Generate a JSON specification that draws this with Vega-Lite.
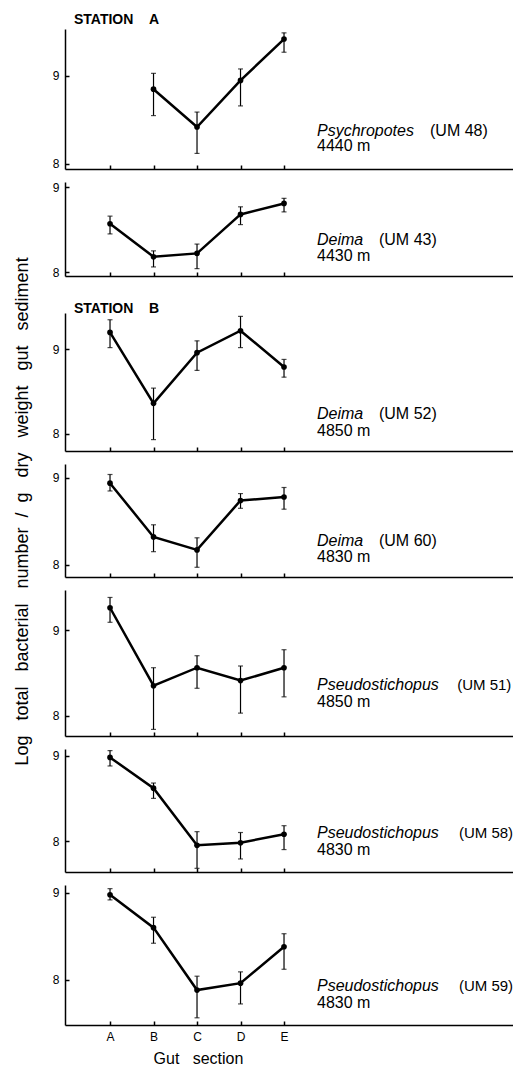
{
  "$schema": "https://vega.github.io/schema/vega-lite/v6.json",
  "background": "white",
  "padding": {"left": 12, "top": 13, "right": 0, "bottom": 0},
  "datasets": {
    "pts": [
      {"p": 1, "s": "B", "x": 2, "m": 8.85, "lo": 8.55, "hi": 9.03},
      {"p": 1, "s": "C", "x": 3, "m": 8.42, "lo": 8.12, "hi": 8.59},
      {"p": 1, "s": "D", "x": 4, "m": 8.95, "lo": 8.66, "hi": 9.08},
      {"p": 1, "s": "E", "x": 5, "m": 9.42, "lo": 9.27, "hi": 9.49},
      {"p": 2, "s": "A", "x": 1, "m": 8.57, "lo": 8.45, "hi": 8.66},
      {"p": 2, "s": "B", "x": 2, "m": 8.18, "lo": 8.06, "hi": 8.25},
      {"p": 2, "s": "C", "x": 3, "m": 8.22, "lo": 8.04, "hi": 8.33},
      {"p": 2, "s": "D", "x": 4, "m": 8.68, "lo": 8.56, "hi": 8.77},
      {"p": 2, "s": "E", "x": 5, "m": 8.81, "lo": 8.71, "hi": 8.87},
      {"p": 3, "s": "A", "x": 1, "m": 9.20, "lo": 9.02, "hi": 9.35},
      {"p": 3, "s": "B", "x": 2, "m": 8.36, "lo": 7.93, "hi": 8.54},
      {"p": 3, "s": "C", "x": 3, "m": 8.96, "lo": 8.75, "hi": 9.10},
      {"p": 3, "s": "D", "x": 4, "m": 9.22, "lo": 9.02, "hi": 9.39},
      {"p": 3, "s": "E", "x": 5, "m": 8.79, "lo": 8.67, "hi": 8.88},
      {"p": 4, "s": "A", "x": 1, "m": 8.94, "lo": 8.85, "hi": 9.04},
      {"p": 4, "s": "B", "x": 2, "m": 8.32, "lo": 8.15, "hi": 8.46},
      {"p": 4, "s": "C", "x": 3, "m": 8.17, "lo": 7.97, "hi": 8.31},
      {"p": 4, "s": "D", "x": 4, "m": 8.74, "lo": 8.65, "hi": 8.82},
      {"p": 4, "s": "E", "x": 5, "m": 8.78, "lo": 8.64, "hi": 8.89},
      {"p": 5, "s": "A", "x": 1, "m": 9.26, "lo": 9.09, "hi": 9.38},
      {"p": 5, "s": "B", "x": 2, "m": 8.35, "lo": 7.84, "hi": 8.56},
      {"p": 5, "s": "C", "x": 3, "m": 8.56, "lo": 8.32, "hi": 8.70},
      {"p": 5, "s": "D", "x": 4, "m": 8.41, "lo": 8.03, "hi": 8.58},
      {"p": 5, "s": "E", "x": 5, "m": 8.56, "lo": 8.22, "hi": 8.77},
      {"p": 6, "s": "A", "x": 1, "m": 8.98, "lo": 8.88, "hi": 9.06},
      {"p": 6, "s": "B", "x": 2, "m": 8.62, "lo": 8.50, "hi": 8.68},
      {"p": 6, "s": "C", "x": 3, "m": 7.95, "lo": 7.68, "hi": 8.11},
      {"p": 6, "s": "D", "x": 4, "m": 7.98, "lo": 7.79, "hi": 8.10},
      {"p": 6, "s": "E", "x": 5, "m": 8.08, "lo": 7.90, "hi": 8.18},
      {"p": 7, "s": "A", "x": 1, "m": 8.98, "lo": 8.92, "hi": 9.05},
      {"p": 7, "s": "B", "x": 2, "m": 8.60, "lo": 8.42, "hi": 8.72},
      {"p": 7, "s": "C", "x": 3, "m": 7.88, "lo": 7.56, "hi": 8.04},
      {"p": 7, "s": "D", "x": 4, "m": 7.96, "lo": 7.72, "hi": 8.09},
      {"p": 7, "s": "E", "x": 5, "m": 8.38, "lo": 8.12, "hi": 8.53}
    ],
    "lab": [
      {"p": 1, "sp": "Psychropotes", "um": "(UM 48)", "d": "4440 m"},
      {"p": 2, "sp": "Deima", "um": "(UM 43)", "d": "4430 m"},
      {"p": 3, "sp": "Deima", "um": "(UM 52)", "d": "4850 m"},
      {"p": 4, "sp": "Deima", "um": "(UM 60)", "d": "4830 m"},
      {"p": 5, "sp": "Pseudostichopus", "um": "(UM 51)", "d": "4850 m"},
      {"p": 6, "sp": "Pseudostichopus", "um": "(UM 58)", "d": "4830 m"},
      {"p": 7, "sp": "Pseudostichopus", "um": "(UM 59)", "d": "4830 m"}
    ]
  },
  "config": {
    "view": {"stroke": null},
    "font": "Liberation Sans",
    "axis": {
      "domainColor": "black", "domainWidth": 1.5,
      "tickColor": "black", "tickWidth": 1.5, "tickSize": -4,
      "labelColor": "black", "labelFont": "Liberation Sans", "labelFontSize": 12, "labelPadding": 10,
      "grid": false, "titleColor": "black", "titleFont": "Liberation Sans", "titleFontWeight": "normal"
    },
    "title": {"font": "Liberation Sans", "fontSize": 14, "fontWeight": "bold", "color": "black", "anchor": "start", "frame": "group", "dx": 9, "dy": -4, "offset": -2},
    "text": {"fontSize": 16, "align": "left", "baseline": "middle", "color": "black", "font": "Liberation Sans"},
    "tick": {"orient": "horizontal", "color": "black", "size": 5, "thickness": 1.2},
    "rule": {"color": "black", "strokeWidth": 1.2},
    "line": {"color": "black", "strokeWidth": 2.5},
    "point": {"filled": true, "color": "black", "opacity": 1, "size": 32}
  },
  "spacing": 13,
  "bounds": "flush",
  "vconcat": [
    {
      "width": 450, "height": 140,
      "title": {"text": "STATION\u00a0\u00a0\u00a0\u00a0A"},
      "layer": [
        {"data": {"name": "pts"}, "transform": [{"filter": "datum.p == 1"}], "mark": "rule",
         "encoding": {"x": {"field": "x", "type": "quantitative", "scale": {"domain": [-0.035, 10.31]}, "axis": {"values": [1, 2, 3, 4, 5], "labels": false, "title": null}},
                      "y": {"field": "lo", "type": "quantitative", "scale": {"domain": [7.943, 9.534]}, "axis": {"values": [8, 9], "format": "d", "title": null}}, "y2": {"field": "hi"}}},
        {"data": {"name": "pts"}, "transform": [{"filter": "datum.p == 1"}], "mark": "tick",
         "encoding": {"x": {"field": "x", "type": "quantitative", "scale": {"domain": [-0.035, 10.31]}, "axis": {"values": [1, 2, 3, 4, 5], "labels": false, "title": null}},
                      "y": {"field": "lo", "type": "quantitative", "scale": {"domain": [7.943, 9.534]}, "axis": {"values": [8, 9], "format": "d", "title": null}}}},
        {"data": {"name": "pts"}, "transform": [{"filter": "datum.p == 1"}], "mark": "tick",
         "encoding": {"x": {"field": "x", "type": "quantitative", "scale": {"domain": [-0.035, 10.31]}, "axis": {"values": [1, 2, 3, 4, 5], "labels": false, "title": null}},
                      "y": {"field": "hi", "type": "quantitative", "scale": {"domain": [7.943, 9.534]}, "axis": {"values": [8, 9], "format": "d", "title": null}}}},
        {"data": {"name": "pts"}, "transform": [{"filter": "datum.p == 1"}], "mark": "line",
         "encoding": {"x": {"field": "x", "type": "quantitative", "scale": {"domain": [-0.035, 10.31]}, "axis": {"values": [1, 2, 3, 4, 5], "labels": false, "title": null}},
                      "y": {"field": "m", "type": "quantitative", "scale": {"domain": [7.943, 9.534]}, "axis": {"values": [8, 9], "format": "d", "title": null}}}},
        {"data": {"name": "pts"}, "transform": [{"filter": "datum.p == 1"}], "mark": "point",
         "encoding": {"x": {"field": "x", "type": "quantitative", "scale": {"domain": [-0.035, 10.31]}, "axis": {"values": [1, 2, 3, 4, 5], "labels": false, "title": null}},
                      "y": {"field": "m", "type": "quantitative", "scale": {"domain": [7.943, 9.534]}, "axis": {"values": [8, 9], "format": "d", "title": null}}}},
        {"data": {"name": "lab"}, "transform": [{"filter": "datum.p == 1"}], "mark": {"type": "text", "fontStyle": "italic"},
         "encoding": {"x": {"datum": 5.758, "type": "quantitative", "scale": {"domain": [-0.035, 10.31]}, "axis": {"values": [1, 2, 3, 4, 5], "labels": false, "title": null}},
                      "y": {"datum": 8.38, "type": "quantitative", "scale": {"domain": [7.943, 9.534]}, "axis": {"values": [8, 9], "format": "d", "title": null}}, "text": {"field": "sp"}}},
        {"data": {"name": "lab"}, "transform": [{"filter": "datum.p == 1"}], "mark": "text",
         "encoding": {"x": {"datum": 8.356, "type": "quantitative", "scale": {"domain": [-0.035, 10.31]}, "axis": {"values": [1, 2, 3, 4, 5], "labels": false, "title": null}},
                      "y": {"datum": 8.38, "type": "quantitative", "scale": {"domain": [7.943, 9.534]}, "axis": {"values": [8, 9], "format": "d", "title": null}}, "text": {"field": "um"}}},
        {"data": {"name": "lab"}, "transform": [{"filter": "datum.p == 1"}], "mark": "text",
         "encoding": {"x": {"datum": 5.758, "type": "quantitative", "scale": {"domain": [-0.035, 10.31]}, "axis": {"values": [1, 2, 3, 4, 5], "labels": false, "title": null}},
                      "y": {"datum": 8.20, "type": "quantitative", "scale": {"domain": [7.943, 9.534]}, "axis": {"values": [8, 9], "format": "d", "title": null}}, "text": {"field": "d"}}}
      ]
    },
    {
      "width": 450, "height": 94,
      "layer": [
        {"data": {"name": "pts"}, "transform": [{"filter": "datum.p == 2"}], "mark": "rule",
         "encoding": {"x": {"field": "x", "type": "quantitative", "scale": {"domain": [-0.035, 10.31]}, "axis": {"values": [1, 2, 3, 4, 5], "labels": false, "title": null}},
                      "y": {"field": "lo", "type": "quantitative", "scale": {"domain": [7.953, 9.063]}, "axis": {"values": [8, 9], "format": "d", "title": null}}, "y2": {"field": "hi"}}},
        {"data": {"name": "pts"}, "transform": [{"filter": "datum.p == 2"}], "mark": "tick",
         "encoding": {"x": {"field": "x", "type": "quantitative", "scale": {"domain": [-0.035, 10.31]}, "axis": {"values": [1, 2, 3, 4, 5], "labels": false, "title": null}},
                      "y": {"field": "lo", "type": "quantitative", "scale": {"domain": [7.953, 9.063]}, "axis": {"values": [8, 9], "format": "d", "title": null}}}},
        {"data": {"name": "pts"}, "transform": [{"filter": "datum.p == 2"}], "mark": "tick",
         "encoding": {"x": {"field": "x", "type": "quantitative", "scale": {"domain": [-0.035, 10.31]}, "axis": {"values": [1, 2, 3, 4, 5], "labels": false, "title": null}},
                      "y": {"field": "hi", "type": "quantitative", "scale": {"domain": [7.953, 9.063]}, "axis": {"values": [8, 9], "format": "d", "title": null}}}},
        {"data": {"name": "pts"}, "transform": [{"filter": "datum.p == 2"}], "mark": "line",
         "encoding": {"x": {"field": "x", "type": "quantitative", "scale": {"domain": [-0.035, 10.31]}, "axis": {"values": [1, 2, 3, 4, 5], "labels": false, "title": null}},
                      "y": {"field": "m", "type": "quantitative", "scale": {"domain": [7.953, 9.063]}, "axis": {"values": [8, 9], "format": "d", "title": null}}}},
        {"data": {"name": "pts"}, "transform": [{"filter": "datum.p == 2"}], "mark": "point",
         "encoding": {"x": {"field": "x", "type": "quantitative", "scale": {"domain": [-0.035, 10.31]}, "axis": {"values": [1, 2, 3, 4, 5], "labels": false, "title": null}},
                      "y": {"field": "m", "type": "quantitative", "scale": {"domain": [7.953, 9.063]}, "axis": {"values": [8, 9], "format": "d", "title": null}}}},
        {"data": {"name": "lab"}, "transform": [{"filter": "datum.p == 2"}], "mark": {"type": "text", "fontStyle": "italic"},
         "encoding": {"x": {"datum": 5.758, "type": "quantitative", "scale": {"domain": [-0.035, 10.31]}, "axis": {"values": [1, 2, 3, 4, 5], "labels": false, "title": null}},
                      "y": {"datum": 8.38, "type": "quantitative", "scale": {"domain": [7.953, 9.063]}, "axis": {"values": [8, 9], "format": "d", "title": null}}, "text": {"field": "sp"}}},
        {"data": {"name": "lab"}, "transform": [{"filter": "datum.p == 2"}], "mark": "text",
         "encoding": {"x": {"datum": 7.183, "type": "quantitative", "scale": {"domain": [-0.035, 10.31]}, "axis": {"values": [1, 2, 3, 4, 5], "labels": false, "title": null}},
                      "y": {"datum": 8.38, "type": "quantitative", "scale": {"domain": [7.953, 9.063]}, "axis": {"values": [8, 9], "format": "d", "title": null}}, "text": {"field": "um"}}},
        {"data": {"name": "lab"}, "transform": [{"filter": "datum.p == 2"}], "mark": "text",
         "encoding": {"x": {"datum": 5.758, "type": "quantitative", "scale": {"domain": [-0.035, 10.31]}, "axis": {"values": [1, 2, 3, 4, 5], "labels": false, "title": null}},
                      "y": {"datum": 8.19, "type": "quantitative", "scale": {"domain": [7.953, 9.063]}, "axis": {"values": [8, 9], "format": "d", "title": null}}, "text": {"field": "d"}}}
      ]
    },
    {
      "width": 450, "height": 11,
      "data": {"name": "pts"}, "transform": [{"filter": "false"}],
      "mark": {"type": "point", "opacity": 0},
      "encoding": {"x": {"field": "x", "type": "quantitative", "axis": null}, "y": {"field": "m", "type": "quantitative", "axis": null}}
    },
    {
      "width": 450, "height": 138,
      "title": {"text": "STATION\u00a0\u00a0\u00a0\u00a0B", "dy": 1},
      "layer": [
        {"data": {"name": "pts"}, "transform": [{"filter": "datum.p == 3"}], "mark": "rule",
         "encoding": {"x": {"field": "x", "type": "quantitative", "scale": {"domain": [-0.035, 10.31]}, "axis": {"values": [1, 2, 3, 4, 5], "labels": false, "title": null}},
                      "y": {"field": "lo", "type": "quantitative", "scale": {"domain": [7.795, 9.43]}, "axis": {"values": [8, 9], "format": "d", "title": null}}, "y2": {"field": "hi"}}},
        {"data": {"name": "pts"}, "transform": [{"filter": "datum.p == 3"}], "mark": "tick",
         "encoding": {"x": {"field": "x", "type": "quantitative", "scale": {"domain": [-0.035, 10.31]}, "axis": {"values": [1, 2, 3, 4, 5], "labels": false, "title": null}},
                      "y": {"field": "lo", "type": "quantitative", "scale": {"domain": [7.795, 9.43]}, "axis": {"values": [8, 9], "format": "d", "title": null}}}},
        {"data": {"name": "pts"}, "transform": [{"filter": "datum.p == 3"}], "mark": "tick",
         "encoding": {"x": {"field": "x", "type": "quantitative", "scale": {"domain": [-0.035, 10.31]}, "axis": {"values": [1, 2, 3, 4, 5], "labels": false, "title": null}},
                      "y": {"field": "hi", "type": "quantitative", "scale": {"domain": [7.795, 9.43]}, "axis": {"values": [8, 9], "format": "d", "title": null}}}},
        {"data": {"name": "pts"}, "transform": [{"filter": "datum.p == 3"}], "mark": "line",
         "encoding": {"x": {"field": "x", "type": "quantitative", "scale": {"domain": [-0.035, 10.31]}, "axis": {"values": [1, 2, 3, 4, 5], "labels": false, "title": null}},
                      "y": {"field": "m", "type": "quantitative", "scale": {"domain": [7.795, 9.43]}, "axis": {"values": [8, 9], "format": "d", "title": null}}}},
        {"data": {"name": "pts"}, "transform": [{"filter": "datum.p == 3"}], "mark": "point",
         "encoding": {"x": {"field": "x", "type": "quantitative", "scale": {"domain": [-0.035, 10.31]}, "axis": {"values": [1, 2, 3, 4, 5], "labels": false, "title": null}},
                      "y": {"field": "m", "type": "quantitative", "scale": {"domain": [7.795, 9.43]}, "axis": {"values": [8, 9], "format": "d", "title": null}}}},
        {"data": {"name": "lab"}, "transform": [{"filter": "datum.p == 3"}], "mark": {"type": "text", "fontStyle": "italic"},
         "encoding": {"x": {"datum": 5.758, "type": "quantitative", "scale": {"domain": [-0.035, 10.31]}, "axis": {"values": [1, 2, 3, 4, 5], "labels": false, "title": null}},
                      "y": {"datum": 8.235, "type": "quantitative", "scale": {"domain": [7.795, 9.43]}, "axis": {"values": [8, 9], "format": "d", "title": null}}, "text": {"field": "sp"}}},
        {"data": {"name": "lab"}, "transform": [{"filter": "datum.p == 3"}], "mark": "text",
         "encoding": {"x": {"datum": 7.183, "type": "quantitative", "scale": {"domain": [-0.035, 10.31]}, "axis": {"values": [1, 2, 3, 4, 5], "labels": false, "title": null}},
                      "y": {"datum": 8.235, "type": "quantitative", "scale": {"domain": [7.795, 9.43]}, "axis": {"values": [8, 9], "format": "d", "title": null}}, "text": {"field": "um"}}},
        {"data": {"name": "lab"}, "transform": [{"filter": "datum.p == 3"}], "mark": "text",
         "encoding": {"x": {"datum": 5.758, "type": "quantitative", "scale": {"domain": [-0.035, 10.31]}, "axis": {"values": [1, 2, 3, 4, 5], "labels": false, "title": null}},
                      "y": {"datum": 8.03, "type": "quantitative", "scale": {"domain": [7.795, 9.43]}, "axis": {"values": [8, 9], "format": "d", "title": null}}, "text": {"field": "d"}}}
      ]
    },
    {
      "width": 450, "height": 113,
      "layer": [
        {"data": {"name": "pts"}, "transform": [{"filter": "datum.p == 4"}], "mark": "rule",
         "encoding": {"x": {"field": "x", "type": "quantitative", "scale": {"domain": [-0.035, 10.31]}, "axis": {"values": [1, 2, 3, 4, 5], "labels": false, "title": null}},
                      "y": {"field": "lo", "type": "quantitative", "scale": {"domain": [7.858, 9.161]}, "axis": {"values": [8, 9], "format": "d", "title": "Log\u00a0\u00a0\u00a0total\u00a0\u00a0\u00a0bacterial\u00a0\u00a0\u00a0number\u00a0\u00a0/\u00a0\u00a0g\u00a0\u00a0\u00a0dry\u00a0\u00a0\u00a0weight\u00a0\u00a0\u00a0gut\u00a0\u00a0\u00a0sediment", "titleFontSize": 18, "titleX": -43, "titleY": 47, "titleAngle": -90, "titleAlign": "center", "titleBaseline": "middle"}}, "y2": {"field": "hi"}}},
        {"data": {"name": "pts"}, "transform": [{"filter": "datum.p == 4"}], "mark": "tick",
         "encoding": {"x": {"field": "x", "type": "quantitative", "scale": {"domain": [-0.035, 10.31]}, "axis": {"values": [1, 2, 3, 4, 5], "labels": false, "title": null}},
                      "y": {"field": "lo", "type": "quantitative", "scale": {"domain": [7.858, 9.161]}, "axis": {"values": [8, 9], "format": "d", "title": "Log\u00a0\u00a0\u00a0total\u00a0\u00a0\u00a0bacterial\u00a0\u00a0\u00a0number\u00a0\u00a0/\u00a0\u00a0g\u00a0\u00a0\u00a0dry\u00a0\u00a0\u00a0weight\u00a0\u00a0\u00a0gut\u00a0\u00a0\u00a0sediment", "titleFontSize": 18, "titleX": -43, "titleY": 47, "titleAngle": -90, "titleAlign": "center", "titleBaseline": "middle"}}}},
        {"data": {"name": "pts"}, "transform": [{"filter": "datum.p == 4"}], "mark": "tick",
         "encoding": {"x": {"field": "x", "type": "quantitative", "scale": {"domain": [-0.035, 10.31]}, "axis": {"values": [1, 2, 3, 4, 5], "labels": false, "title": null}},
                      "y": {"field": "hi", "type": "quantitative", "scale": {"domain": [7.858, 9.161]}, "axis": {"values": [8, 9], "format": "d", "title": "Log\u00a0\u00a0\u00a0total\u00a0\u00a0\u00a0bacterial\u00a0\u00a0\u00a0number\u00a0\u00a0/\u00a0\u00a0g\u00a0\u00a0\u00a0dry\u00a0\u00a0\u00a0weight\u00a0\u00a0\u00a0gut\u00a0\u00a0\u00a0sediment", "titleFontSize": 18, "titleX": -43, "titleY": 47, "titleAngle": -90, "titleAlign": "center", "titleBaseline": "middle"}}}},
        {"data": {"name": "pts"}, "transform": [{"filter": "datum.p == 4"}], "mark": "line",
         "encoding": {"x": {"field": "x", "type": "quantitative", "scale": {"domain": [-0.035, 10.31]}, "axis": {"values": [1, 2, 3, 4, 5], "labels": false, "title": null}},
                      "y": {"field": "m", "type": "quantitative", "scale": {"domain": [7.858, 9.161]}, "axis": {"values": [8, 9], "format": "d", "title": "Log\u00a0\u00a0\u00a0total\u00a0\u00a0\u00a0bacterial\u00a0\u00a0\u00a0number\u00a0\u00a0/\u00a0\u00a0g\u00a0\u00a0\u00a0dry\u00a0\u00a0\u00a0weight\u00a0\u00a0\u00a0gut\u00a0\u00a0\u00a0sediment", "titleFontSize": 18, "titleX": -43, "titleY": 47, "titleAngle": -90, "titleAlign": "center", "titleBaseline": "middle"}}}},
        {"data": {"name": "pts"}, "transform": [{"filter": "datum.p == 4"}], "mark": "point",
         "encoding": {"x": {"field": "x", "type": "quantitative", "scale": {"domain": [-0.035, 10.31]}, "axis": {"values": [1, 2, 3, 4, 5], "labels": false, "title": null}},
                      "y": {"field": "m", "type": "quantitative", "scale": {"domain": [7.858, 9.161]}, "axis": {"values": [8, 9], "format": "d", "title": "Log\u00a0\u00a0\u00a0total\u00a0\u00a0\u00a0bacterial\u00a0\u00a0\u00a0number\u00a0\u00a0/\u00a0\u00a0g\u00a0\u00a0\u00a0dry\u00a0\u00a0\u00a0weight\u00a0\u00a0\u00a0gut\u00a0\u00a0\u00a0sediment", "titleFontSize": 18, "titleX": -43, "titleY": 47, "titleAngle": -90, "titleAlign": "center", "titleBaseline": "middle"}}}},
        {"data": {"name": "lab"}, "transform": [{"filter": "datum.p == 4"}], "mark": {"type": "text", "fontStyle": "italic"},
         "encoding": {"x": {"datum": 5.758, "type": "quantitative", "scale": {"domain": [-0.035, 10.31]}, "axis": {"values": [1, 2, 3, 4, 5], "labels": false, "title": null}},
                      "y": {"datum": 8.27, "type": "quantitative", "scale": {"domain": [7.858, 9.161]}, "axis": {"values": [8, 9], "format": "d", "title": "Log\u00a0\u00a0\u00a0total\u00a0\u00a0\u00a0bacterial\u00a0\u00a0\u00a0number\u00a0\u00a0/\u00a0\u00a0g\u00a0\u00a0\u00a0dry\u00a0\u00a0\u00a0weight\u00a0\u00a0\u00a0gut\u00a0\u00a0\u00a0sediment", "titleFontSize": 18, "titleX": -43, "titleY": 47, "titleAngle": -90, "titleAlign": "center", "titleBaseline": "middle"}}, "text": {"field": "sp"}}},
        {"data": {"name": "lab"}, "transform": [{"filter": "datum.p == 4"}], "mark": "text",
         "encoding": {"x": {"datum": 7.183, "type": "quantitative", "scale": {"domain": [-0.035, 10.31]}, "axis": {"values": [1, 2, 3, 4, 5], "labels": false, "title": null}},
                      "y": {"datum": 8.27, "type": "quantitative", "scale": {"domain": [7.858, 9.161]}, "axis": {"values": [8, 9], "format": "d", "title": "Log\u00a0\u00a0\u00a0total\u00a0\u00a0\u00a0bacterial\u00a0\u00a0\u00a0number\u00a0\u00a0/\u00a0\u00a0g\u00a0\u00a0\u00a0dry\u00a0\u00a0\u00a0weight\u00a0\u00a0\u00a0gut\u00a0\u00a0\u00a0sediment", "titleFontSize": 18, "titleX": -43, "titleY": 47, "titleAngle": -90, "titleAlign": "center", "titleBaseline": "middle"}}, "text": {"field": "um"}}},
        {"data": {"name": "lab"}, "transform": [{"filter": "datum.p == 4"}], "mark": "text",
         "encoding": {"x": {"datum": 5.758, "type": "quantitative", "scale": {"domain": [-0.035, 10.31]}, "axis": {"values": [1, 2, 3, 4, 5], "labels": false, "title": null}},
                      "y": {"datum": 8.085, "type": "quantitative", "scale": {"domain": [7.858, 9.161]}, "axis": {"values": [8, 9], "format": "d", "title": "Log\u00a0\u00a0\u00a0total\u00a0\u00a0\u00a0bacterial\u00a0\u00a0\u00a0number\u00a0\u00a0/\u00a0\u00a0g\u00a0\u00a0\u00a0dry\u00a0\u00a0\u00a0weight\u00a0\u00a0\u00a0gut\u00a0\u00a0\u00a0sediment", "titleFontSize": 18, "titleX": -43, "titleY": 47, "titleAngle": -90, "titleAlign": "center", "titleBaseline": "middle"}}, "text": {"field": "d"}}}
      ]
    },
    {
      "width": 450, "height": 146,
      "layer": [
        {"data": {"name": "pts"}, "transform": [{"filter": "datum.p == 5"}], "mark": "rule",
         "encoding": {"x": {"field": "x", "type": "quantitative", "scale": {"domain": [-0.035, 10.31]}, "axis": {"values": [1, 2, 3, 4, 5], "labels": false, "title": null}},
                      "y": {"field": "lo", "type": "quantitative", "scale": {"domain": [7.763, 9.467]}, "axis": {"values": [8, 9], "format": "d", "title": null}}, "y2": {"field": "hi"}}},
        {"data": {"name": "pts"}, "transform": [{"filter": "datum.p == 5"}], "mark": "tick",
         "encoding": {"x": {"field": "x", "type": "quantitative", "scale": {"domain": [-0.035, 10.31]}, "axis": {"values": [1, 2, 3, 4, 5], "labels": false, "title": null}},
                      "y": {"field": "lo", "type": "quantitative", "scale": {"domain": [7.763, 9.467]}, "axis": {"values": [8, 9], "format": "d", "title": null}}}},
        {"data": {"name": "pts"}, "transform": [{"filter": "datum.p == 5"}], "mark": "tick",
         "encoding": {"x": {"field": "x", "type": "quantitative", "scale": {"domain": [-0.035, 10.31]}, "axis": {"values": [1, 2, 3, 4, 5], "labels": false, "title": null}},
                      "y": {"field": "hi", "type": "quantitative", "scale": {"domain": [7.763, 9.467]}, "axis": {"values": [8, 9], "format": "d", "title": null}}}},
        {"data": {"name": "pts"}, "transform": [{"filter": "datum.p == 5"}], "mark": "line",
         "encoding": {"x": {"field": "x", "type": "quantitative", "scale": {"domain": [-0.035, 10.31]}, "axis": {"values": [1, 2, 3, 4, 5], "labels": false, "title": null}},
                      "y": {"field": "m", "type": "quantitative", "scale": {"domain": [7.763, 9.467]}, "axis": {"values": [8, 9], "format": "d", "title": null}}}},
        {"data": {"name": "pts"}, "transform": [{"filter": "datum.p == 5"}], "mark": "point",
         "encoding": {"x": {"field": "x", "type": "quantitative", "scale": {"domain": [-0.035, 10.31]}, "axis": {"values": [1, 2, 3, 4, 5], "labels": false, "title": null}},
                      "y": {"field": "m", "type": "quantitative", "scale": {"domain": [7.763, 9.467]}, "axis": {"values": [8, 9], "format": "d", "title": null}}}},
        {"data": {"name": "lab"}, "transform": [{"filter": "datum.p == 5"}], "mark": {"type": "text", "fontStyle": "italic"},
         "encoding": {"x": {"datum": 5.758, "type": "quantitative", "scale": {"domain": [-0.035, 10.31]}, "axis": {"values": [1, 2, 3, 4, 5], "labels": false, "title": null}},
                      "y": {"datum": 8.36, "type": "quantitative", "scale": {"domain": [7.763, 9.467]}, "axis": {"values": [8, 9], "format": "d", "title": null}}, "text": {"field": "sp"}}},
        {"data": {"name": "lab"}, "transform": [{"filter": "datum.p == 5"}], "mark": {"type": "text", "fontSize": 15},
         "encoding": {"x": {"datum": 8.98, "type": "quantitative", "scale": {"domain": [-0.035, 10.31]}, "axis": {"values": [1, 2, 3, 4, 5], "labels": false, "title": null}},
                      "y": {"datum": 8.36, "type": "quantitative", "scale": {"domain": [7.763, 9.467]}, "axis": {"values": [8, 9], "format": "d", "title": null}}, "text": {"field": "um"}}},
        {"data": {"name": "lab"}, "transform": [{"filter": "datum.p == 5"}], "mark": "text",
         "encoding": {"x": {"datum": 5.758, "type": "quantitative", "scale": {"domain": [-0.035, 10.31]}, "axis": {"values": [1, 2, 3, 4, 5], "labels": false, "title": null}},
                      "y": {"datum": 8.16, "type": "quantitative", "scale": {"domain": [7.763, 9.467]}, "axis": {"values": [8, 9], "format": "d", "title": null}}, "text": {"field": "d"}}}
      ]
    },
    {
      "width": 450, "height": 123,
      "layer": [
        {"data": {"name": "pts"}, "transform": [{"filter": "datum.p == 6"}], "mark": "rule",
         "encoding": {"x": {"field": "x", "type": "quantitative", "scale": {"domain": [-0.035, 10.31]}, "axis": {"values": [1, 2, 3, 4, 5], "labels": false, "title": null}},
                      "y": {"field": "lo", "type": "quantitative", "scale": {"domain": [7.637, 9.079]}, "axis": {"values": [8, 9], "format": "d", "title": null}}, "y2": {"field": "hi"}}},
        {"data": {"name": "pts"}, "transform": [{"filter": "datum.p == 6"}], "mark": "tick",
         "encoding": {"x": {"field": "x", "type": "quantitative", "scale": {"domain": [-0.035, 10.31]}, "axis": {"values": [1, 2, 3, 4, 5], "labels": false, "title": null}},
                      "y": {"field": "lo", "type": "quantitative", "scale": {"domain": [7.637, 9.079]}, "axis": {"values": [8, 9], "format": "d", "title": null}}}},
        {"data": {"name": "pts"}, "transform": [{"filter": "datum.p == 6"}], "mark": "tick",
         "encoding": {"x": {"field": "x", "type": "quantitative", "scale": {"domain": [-0.035, 10.31]}, "axis": {"values": [1, 2, 3, 4, 5], "labels": false, "title": null}},
                      "y": {"field": "hi", "type": "quantitative", "scale": {"domain": [7.637, 9.079]}, "axis": {"values": [8, 9], "format": "d", "title": null}}}},
        {"data": {"name": "pts"}, "transform": [{"filter": "datum.p == 6"}], "mark": "line",
         "encoding": {"x": {"field": "x", "type": "quantitative", "scale": {"domain": [-0.035, 10.31]}, "axis": {"values": [1, 2, 3, 4, 5], "labels": false, "title": null}},
                      "y": {"field": "m", "type": "quantitative", "scale": {"domain": [7.637, 9.079]}, "axis": {"values": [8, 9], "format": "d", "title": null}}}},
        {"data": {"name": "pts"}, "transform": [{"filter": "datum.p == 6"}], "mark": "point",
         "encoding": {"x": {"field": "x", "type": "quantitative", "scale": {"domain": [-0.035, 10.31]}, "axis": {"values": [1, 2, 3, 4, 5], "labels": false, "title": null}},
                      "y": {"field": "m", "type": "quantitative", "scale": {"domain": [7.637, 9.079]}, "axis": {"values": [8, 9], "format": "d", "title": null}}}},
        {"data": {"name": "lab"}, "transform": [{"filter": "datum.p == 6"}], "mark": {"type": "text", "fontStyle": "italic"},
         "encoding": {"x": {"datum": 5.758, "type": "quantitative", "scale": {"domain": [-0.035, 10.31]}, "axis": {"values": [1, 2, 3, 4, 5], "labels": false, "title": null}},
                      "y": {"datum": 8.10, "type": "quantitative", "scale": {"domain": [7.637, 9.079]}, "axis": {"values": [8, 9], "format": "d", "title": null}}, "text": {"field": "sp"}}},
        {"data": {"name": "lab"}, "transform": [{"filter": "datum.p == 6"}], "mark": {"type": "text", "fontSize": 15},
         "encoding": {"x": {"datum": 9.02, "type": "quantitative", "scale": {"domain": [-0.035, 10.31]}, "axis": {"values": [1, 2, 3, 4, 5], "labels": false, "title": null}},
                      "y": {"datum": 8.10, "type": "quantitative", "scale": {"domain": [7.637, 9.079]}, "axis": {"values": [8, 9], "format": "d", "title": null}}, "text": {"field": "um"}}},
        {"data": {"name": "lab"}, "transform": [{"filter": "datum.p == 6"}], "mark": "text",
         "encoding": {"x": {"datum": 5.758, "type": "quantitative", "scale": {"domain": [-0.035, 10.31]}, "axis": {"values": [1, 2, 3, 4, 5], "labels": false, "title": null}},
                      "y": {"datum": 7.895, "type": "quantitative", "scale": {"domain": [7.637, 9.079]}, "axis": {"values": [8, 9], "format": "d", "title": null}}, "text": {"field": "d"}}}
      ]
    },
    {
      "width": 450, "height": 140,
      "layer": [
        {"data": {"name": "pts"}, "transform": [{"filter": "datum.p == 7"}], "mark": "rule",
         "encoding": {"x": {"field": "x", "type": "quantitative", "scale": {"domain": [-0.035, 10.31]}, "axis": {"values": [1, 2, 3, 4, 5], "title": "Gut\u00a0\u00a0\u00a0section", "labelExpr": "['','A','B','C','D','E'][datum.value]", "titleFontSize": 16, "titlePadding": 8, "titleX": 133, "titleAlign": "center"}},
                      "y": {"field": "lo", "type": "quantitative", "scale": {"domain": [7.477, 9.092]}, "axis": {"values": [8, 9], "format": "d", "title": null}}, "y2": {"field": "hi"}}},
        {"data": {"name": "pts"}, "transform": [{"filter": "datum.p == 7"}], "mark": "tick",
         "encoding": {"x": {"field": "x", "type": "quantitative", "scale": {"domain": [-0.035, 10.31]}, "axis": {"values": [1, 2, 3, 4, 5], "title": "Gut\u00a0\u00a0\u00a0section", "labelExpr": "['','A','B','C','D','E'][datum.value]", "titleFontSize": 16, "titlePadding": 8, "titleX": 133, "titleAlign": "center"}},
                      "y": {"field": "lo", "type": "quantitative", "scale": {"domain": [7.477, 9.092]}, "axis": {"values": [8, 9], "format": "d", "title": null}}}},
        {"data": {"name": "pts"}, "transform": [{"filter": "datum.p == 7"}], "mark": "tick",
         "encoding": {"x": {"field": "x", "type": "quantitative", "scale": {"domain": [-0.035, 10.31]}, "axis": {"values": [1, 2, 3, 4, 5], "title": "Gut\u00a0\u00a0\u00a0section", "labelExpr": "['','A','B','C','D','E'][datum.value]", "titleFontSize": 16, "titlePadding": 8, "titleX": 133, "titleAlign": "center"}},
                      "y": {"field": "hi", "type": "quantitative", "scale": {"domain": [7.477, 9.092]}, "axis": {"values": [8, 9], "format": "d", "title": null}}}},
        {"data": {"name": "pts"}, "transform": [{"filter": "datum.p == 7"}], "mark": "line",
         "encoding": {"x": {"field": "x", "type": "quantitative", "scale": {"domain": [-0.035, 10.31]}, "axis": {"values": [1, 2, 3, 4, 5], "title": "Gut\u00a0\u00a0\u00a0section", "labelExpr": "['','A','B','C','D','E'][datum.value]", "titleFontSize": 16, "titlePadding": 8, "titleX": 133, "titleAlign": "center"}},
                      "y": {"field": "m", "type": "quantitative", "scale": {"domain": [7.477, 9.092]}, "axis": {"values": [8, 9], "format": "d", "title": null}}}},
        {"data": {"name": "pts"}, "transform": [{"filter": "datum.p == 7"}], "mark": "point",
         "encoding": {"x": {"field": "x", "type": "quantitative", "scale": {"domain": [-0.035, 10.31]}, "axis": {"values": [1, 2, 3, 4, 5], "title": "Gut\u00a0\u00a0\u00a0section", "labelExpr": "['','A','B','C','D','E'][datum.value]", "titleFontSize": 16, "titlePadding": 8, "titleX": 133, "titleAlign": "center"}},
                      "y": {"field": "m", "type": "quantitative", "scale": {"domain": [7.477, 9.092]}, "axis": {"values": [8, 9], "format": "d", "title": null}}}},
        {"data": {"name": "lab"}, "transform": [{"filter": "datum.p == 7"}], "mark": {"type": "text", "fontStyle": "italic"},
         "encoding": {"x": {"datum": 5.758, "type": "quantitative", "scale": {"domain": [-0.035, 10.31]}, "axis": {"values": [1, 2, 3, 4, 5], "title": "Gut\u00a0\u00a0\u00a0section", "labelExpr": "['','A','B','C','D','E'][datum.value]", "titleFontSize": 16, "titlePadding": 8, "titleX": 133, "titleAlign": "center"}},
                      "y": {"datum": 7.93, "type": "quantitative", "scale": {"domain": [7.477, 9.092]}, "axis": {"values": [8, 9], "format": "d", "title": null}}, "text": {"field": "sp"}}},
        {"data": {"name": "lab"}, "transform": [{"filter": "datum.p == 7"}], "mark": {"type": "text", "fontSize": 15},
         "encoding": {"x": {"datum": 9.02, "type": "quantitative", "scale": {"domain": [-0.035, 10.31]}, "axis": {"values": [1, 2, 3, 4, 5], "title": "Gut\u00a0\u00a0\u00a0section", "labelExpr": "['','A','B','C','D','E'][datum.value]", "titleFontSize": 16, "titlePadding": 8, "titleX": 133, "titleAlign": "center"}},
                      "y": {"datum": 7.93, "type": "quantitative", "scale": {"domain": [7.477, 9.092]}, "axis": {"values": [8, 9], "format": "d", "title": null}}, "text": {"field": "um"}}},
        {"data": {"name": "lab"}, "transform": [{"filter": "datum.p == 7"}], "mark": "text",
         "encoding": {"x": {"datum": 5.758, "type": "quantitative", "scale": {"domain": [-0.035, 10.31]}, "axis": {"values": [1, 2, 3, 4, 5], "title": "Gut\u00a0\u00a0\u00a0section", "labelExpr": "['','A','B','C','D','E'][datum.value]", "titleFontSize": 16, "titlePadding": 8, "titleX": 133, "titleAlign": "center"}},
                      "y": {"datum": 7.735, "type": "quantitative", "scale": {"domain": [7.477, 9.092]}, "axis": {"values": [8, 9], "format": "d", "title": null}}, "text": {"field": "d"}}}
      ]
    }
  ]
}
